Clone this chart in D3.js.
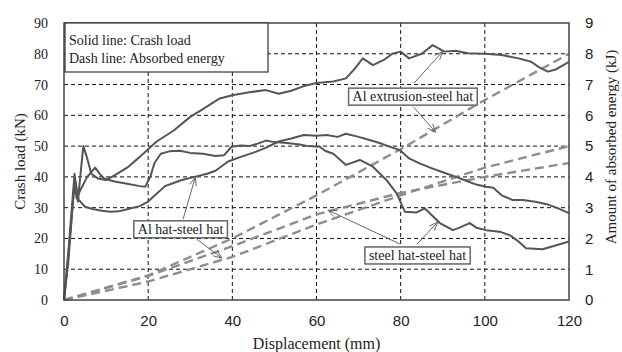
<!DOCTYPE html>
<html>
<head>
<meta charset="utf-8">
<script src="https://cdn.jsdelivr.net/npm/d3@7"></script>
<style>
  body { margin: 0; background: #fff; }
  svg { display: block; }
</style>
</head>
<body>
<svg id="chart" width="622" height="352"></svg>
<script>
// crash load curves (displacement mm, load kN)
var alExtrusionLoad = [[0,0],[1,12],[2.3,35],[2.8,38],[3.3,32],[4,42],[4.6,50],[5.3,47],[6.5,41],[8,39.5],[10,39],[12,40.5],[15,43],[18,46.5],[20,49],[22,51.5],[26,55],[30,59.5],[33,62],[37,65.5],[40,66.5],[44,67.5],[48,68.2],[51,67],[54,68],[57,69.5],[60,70.5],[64,71],[67,72],[69,75],[71,78.5],[73.4,76.3],[76,78],[78,80],[80,80.7],[82,78.5],[85,80],[87.6,82.8],[90.4,80.7],[93,81],[96,80.2],[100,80],[104,79.6],[108,78.5],[111,77.4],[113,75.5],[115,74.2],[117,75],[120,77.4]];
var steelHatLoad = [[0,0],[1,14],[2.5,38],[3,33],[4,36],[5.5,40],[7.4,43],[8.5,41],[9.5,39.5],[12,38.5],[15,37.8],[18,37],[19.3,36.8],[20.5,40],[21.5,44.5],[23,47.5],[25,48.3],[27.5,48.5],[30,47.8],[33,47.5],[36,46.8],[38,47],[39.8,49.8],[42,50.2],[44,50],[46,50.8],[48,51.8],[50,51.3],[53,51],[56,50.5],[58,50],[60.8,49.8],[62,48.5],[64,47.5],[67,43.9],[70.3,45.5],[73.4,43.3],[76.6,39],[79,34.7],[81,28.7],[83.7,28.4],[85.7,29.8],[89.3,25],[92.4,22.7],[94,23.5],[96.4,25],[98,23.5],[100.3,22.7],[103.5,22.2],[106,21],[108,19],[109.8,16.8],[113.7,16.5],[117,17.8],[120,19]];
var alHatLoad = [[0,0],[1,15],[2.5,41],[3,36],[3.5,32.5],[5,30.3],[7,29.5],[9,29],[11,28.7],[13,28.8],[15,29.5],[18,30.5],[20,32],[22,34.5],[24,37],[26,38],[28,39],[31,40],[34,41],[36,42],[39,45],[42,46.5],[45.7,48.2],[48,49.5],[51,51.5],[54,52.5],[57,53.6],[60,53.4],[62.4,53.6],[65,53],[67,54],[70,53],[72.6,52],[75,51],[77,50],[79.8,48.7],[82,46],[84.5,44.4],[87,43],[90,41.5],[93.2,40],[96,38.5],[98,37.5],[100.3,36.8],[102,36.5],[104,34],[106.6,32.5],[109,32.5],[112,31.9],[115,31],[117,30],[120,28.2]];

// absorbed energy curves (displacement mm, energy kJ)
var alExtrusionEnergy = [[0,0],[20,0.8],[40,2.0],[60,3.4],[80,4.9],[100,6.5],[120,8.0]];
var steelHatEnergy = [[0,0],[20,0.78],[40,1.75],[60,2.78],[80,3.48],[100,4.0],[120,4.45]];
var alHatEnergy = [[0,0],[20,0.6],[40,1.4],[60,2.45],[80,3.4],[100,4.3],[120,5.0]];

var xTicks = [0, 20, 40, 60, 80, 100, 120];
var loadTicks = [0, 10, 20, 30, 40, 50, 60, 70, 80, 90];
var energyTicks = [0, 1, 2, 3, 4, 5, 6, 7, 8, 9];

// label boxes: text, box centre (x mm, y kN), arrow starts and tips (x mm, y on the kN scale)
var labels = [
  { text: "Al extrusion-steel hat", cx: 82.9, cy: 66.2, from: [[83.2, 70.5], [83.0, 62.8]], to: [[90.0, 80.8], [88.3, 54.5]] },
  { text: "Al hat-steel hat", cx: 27.7, cy: 23.1, from: [[28.3, 26.3], [31.6, 19.7]], to: [[31.2, 39.9], [37.5, 13.6]] },
  { text: "steel hat-steel hat", cx: 84.0, cy: 14.6, from: [[83.9, 18.2], [79.8, 18.2]], to: [[88.8, 25.3], [62.7, 29.2]] }
];

var W = 622, H = 352;
var margin = { top: 23, right: 53, bottom: 52, left: 64 };
var w = W - margin.left - margin.right,
    h = H - margin.top - margin.bottom;

var svg = d3.select("#chart");
var g = svg.append("g").attr("transform", "translate(" + margin.left + "," + margin.top + ")");

var x = d3.scaleLinear().domain([0, 120]).range([0, w]);
var yLoad = d3.scaleLinear().domain([0, 90]).range([h, 0]);
var yEnergy = d3.scaleLinear().domain([0, 9]).range([h, 0]);

var serif = "'Liberation Serif', 'Times New Roman', serif";
var sans = "'Liberation Sans', Arial, sans-serif";

// grid
g.selectAll(".hgrid").data(loadTicks.slice(1, -1)).enter().append("line")
  .attr("x1", 0).attr("x2", w)
  .attr("y1", function (d) { return yLoad(d); }).attr("y2", function (d) { return yLoad(d); })
  .attr("stroke", "#111").attr("stroke-width", 1).attr("stroke-dasharray", "4,3");
g.selectAll(".vgrid").data(xTicks.slice(1, -1)).enter().append("line")
  .attr("y1", 0).attr("y2", h)
  .attr("x1", function (d) { return x(d); }).attr("x2", function (d) { return x(d); })
  .attr("stroke", "#111").attr("stroke-width", 1).attr("stroke-dasharray", "4,3");

// axes (labels only, frame drawn separately)
var xAxis = g.append("g").attr("transform", "translate(0," + h + ")")
  .call(d3.axisBottom(x).tickValues(xTicks).tickSize(0).tickPadding(15));
xAxis.select(".domain").remove();
xAxis.selectAll("text").attr("font-family", sans).attr("font-size", 15).attr("fill", "#222");

var yAxisL = g.append("g")
  .call(d3.axisLeft(yLoad).tickValues(loadTicks).tickSize(0).tickPadding(16));
yAxisL.select(".domain").remove();
yAxisL.selectAll("text").attr("font-family", serif).attr("font-size", 14).attr("fill", "#222");

var yAxisR = g.append("g").attr("transform", "translate(" + w + ",0)")
  .call(d3.axisRight(yEnergy).tickValues(energyTicks).tickSize(0).tickPadding(16));
yAxisR.select(".domain").remove();
yAxisR.selectAll("text").attr("font-family", sans).attr("font-size", 15).attr("fill", "#222");

// energy (dashed)
var lineE = d3.line().x(function (d) { return x(d[0]); }).y(function (d) { return yEnergy(d[1]); });
[alExtrusionEnergy, steelHatEnergy, alHatEnergy].forEach(function (s) {
  g.append("path").datum(s).attr("d", lineE)
    .attr("fill", "none").attr("stroke", "#8e8e8e").attr("stroke-width", 2.4)
    .attr("stroke-dasharray", "9,5");
});

// load (solid)
var lineL = d3.line().x(function (d) { return x(d[0]); }).y(function (d) { return yLoad(d[1]); });
[alExtrusionLoad, steelHatLoad, alHatLoad].forEach(function (s) {
  g.append("path").datum(s).attr("d", lineL)
    .attr("fill", "none").attr("stroke", "#555").attr("stroke-width", 2)
    .attr("stroke-linejoin", "round");
});

// frame
g.append("rect").attr("width", w).attr("height", h)
  .attr("fill", "none").attr("stroke", "#444").attr("stroke-width", 1.5);

// legend box
var leg = g.append("g");
leg.append("rect").attr("x", 1).attr("y", 0).attr("width", 203).attr("height", 49)
  .attr("fill", "#fff").attr("stroke", "#333").attr("stroke-width", 1.2);
leg.append("text").attr("x", 5).attr("y", 22).text("Solid line: Crash load")
  .attr("font-family", serif).attr("font-size", 14).attr("fill", "#222");
leg.append("text").attr("x", 5).attr("y", 40).text("Dash line: Absorbed energy")
  .attr("font-family", serif).attr("font-size", 14).attr("fill", "#222");

// annotation arrows + boxes
function arrow(x1, y1, x2, y2) {
  g.append("line").attr("x1", x1).attr("y1", y1).attr("x2", x2).attr("y2", y2)
    .attr("stroke", "#666").attr("stroke-width", 1);
  var a = Math.atan2(y2 - y1, x2 - x1), L = 9, sp = 0.38;
  g.append("path")
    .attr("d", "M" + (x2 - L * Math.cos(a - sp)) + "," + (y2 - L * Math.sin(a - sp)) +
      "L" + x2 + "," + y2 +
      "L" + (x2 - L * Math.cos(a + sp)) + "," + (y2 - L * Math.sin(a + sp)))
    .attr("fill", "none").attr("stroke", "#666").attr("stroke-width", 1);
}
labels.forEach(function (lb) {
  lb.from.forEach(function (f, i) {
    arrow(x(f[0]), yLoad(f[1]), x(lb.to[i][0]), yLoad(lb.to[i][1]));
  });
  var t = g.append("text").attr("x", x(lb.cx)).attr("y", yLoad(lb.cy))
    .attr("text-anchor", "middle").attr("dy", "0.35em")
    .attr("font-family", serif).attr("font-size", 14).attr("fill", "#222")
    .text(lb.text);
  var bb = t.node().getBBox();
  g.insert("rect", function () { return t.node(); })
    .attr("x", bb.x - 4).attr("y", bb.y - 1).attr("width", bb.width + 8).attr("height", bb.height + 2)
    .attr("fill", "#fff").attr("stroke", "#666").attr("stroke-width", 1.5);
});

// axis titles
svg.append("text").attr("transform", "translate(20," + (margin.top + h / 2) + ") rotate(-90)")
  .attr("text-anchor", "middle").attr("dy", "0.35em")
  .attr("font-family", serif).attr("font-size", 15).attr("fill", "#222").text("Crash load (kN)");
svg.append("text").attr("transform", "translate(611,147) rotate(-90)")
  .attr("text-anchor", "middle").attr("dy", "0.35em")
  .attr("font-family", serif).attr("font-size", 15).attr("fill", "#222").text("Amount of absorbed energy (kJ)");
svg.append("text").attr("x", margin.left + w / 2).attr("y", 349)
  .attr("text-anchor", "middle")
  .attr("font-family", serif).attr("font-size", 16).attr("fill", "#222").text("Displacement (mm)");
</script>
</body>
</html>
